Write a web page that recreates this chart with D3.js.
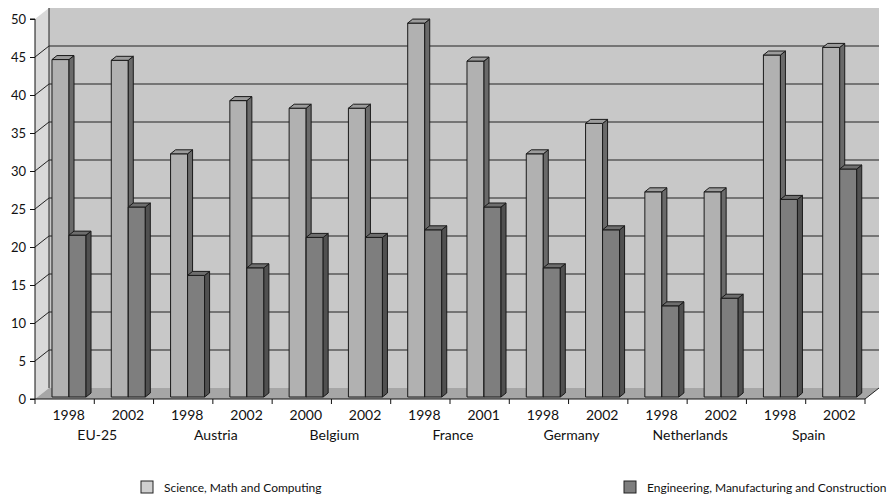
<!DOCTYPE html>
<html><head><meta charset="utf-8">
<script src="https://cdn.jsdelivr.net/npm/d3@7"></script>
<style>body{margin:0;background:#fff}svg{display:block}text{font-family:Lato,"Open Sans",sans-serif;fill:#111}</style>
</head><body>
<svg id="c" width="890" height="502"></svg>
<script>
const years = ["1998","2002","1998","2002","2000","2002","1998","2001","1998","2002","1998","2002","1998","2002"];
const countries = ["EU-25","Austria","Belgium","France","Germany","Netherlands","Spain"];
const science = [44.4,44.3,32,39,38,38,49.2,44.2,32,36,27,27,45,46];
const engineering = [21.3,25,16,17,21,21,22,25,17,22,12,13,26,30];
const seriesNames = ["Science, Math and Computing","Engineering, Manufacturing and Construction"];
const yTicks = [0,5,10,15,20,25,30,35,40,45,50];

const svg = d3.select("#c");
const x = d3.scaleBand().domain(d3.range(years.length)).range([35,865]);
const y = d3.scaleLinear().domain([0,50]).range([399,19]);
const DX = 14, DY = -11;          // wall depth
const FX = 3, FY = -2;            // bar front plane offset
const BDX = 5, BDY = -4;          // bar depth
const bw = x.bandwidth();
const sub = d3.scaleBand().domain([0,1]).range([0.236*bw, 0.81*bw]);
const colors = [
  {front:"#b1b1b1", side:"#6a6a6a", top:"#9c9c9c"},
  {front:"#7e7e7e", side:"#505050", top:"#6e6e6e"}
];
const poly = pts => "M" + pts.map(p=>p.join(",")).join("L") + "Z";
const x0 = x.range()[0], x1 = x.range()[1];
const yTop = y(50), yBot = y(0);

// walls
svg.append("path").attr("d", poly([[x0+DX,yTop+DY],[x1+DX,yTop+DY],[x1+DX,yBot+DY],[x0+DX,yBot+DY]])).attr("fill","#c8c8c8");
svg.append("path").attr("d", poly([[x0,yTop],[x0+DX,yTop+DY],[x0+DX,yBot+DY],[x0,yBot]])).attr("fill","#d9d9d9");
svg.append("path").attr("d", poly([[x0,yBot],[x0+DX,yBot+DY],[x1+DX,yBot+DY],[x1,yBot]])).attr("fill","#a6a6a6");

// gridlines
yTicks.filter(t=>t>0 && t<50).forEach(t=>{
  svg.append("path").attr("d", `M${x0},${y(t)}L${x0+DX},${y(t)+DY}L${x1+DX},${y(t)+DY}`)
    .attr("fill","none").attr("stroke","#222").attr("stroke-width",1);
});
svg.append("line").attr("x1",x0+DX).attr("x2",x0+DX).attr("y1",yTop+DY).attr("y2",yBot+DY).attr("stroke","#222");
svg.append("line").attr("x1",x1).attr("x2",x1+DX).attr("y1",yBot).attr("y2",yBot+DY).attr("stroke","#222");

// bars
const data = years.map((yr,i)=>[science[i], engineering[i]]);
data.forEach((vals,i)=>{
  vals.forEach((v,s)=>{
    const w = sub.bandwidth();
    const xl = x(i) + sub(s) + FX;
    const yt = y(v) + FY, yb = y(0) + FY;
    const g = svg.append("g").attr("stroke","#1a1a1a").attr("stroke-width",1).attr("stroke-linejoin","round");
    g.append("path").attr("d", poly([[xl,yt],[xl+w,yt],[xl+w,yb],[xl,yb]])).attr("fill",colors[s].front);
    g.append("path").attr("d", poly([[xl+w,yt],[xl+w+BDX,yt+BDY],[xl+w+BDX,yb+BDY],[xl+w,yb]])).attr("fill",colors[s].side);
    g.append("path").attr("d", poly([[xl,yt],[xl+BDX,yt+BDY],[xl+w+BDX,yt+BDY],[xl+w,yt]])).attr("fill",colors[s].top);
  });
});

// y axis
const yAxis = d3.axisLeft(y).tickValues(yTicks).tickSize(5).tickPadding(4).tickFormat(d3.format("d"));
const ya = svg.append("g").attr("transform",`translate(${x0},0)`).call(yAxis);
ya.select(".domain").attr("stroke","#111").attr("d",`M-5,${yTop}H0V${yBot}H-5`);
ya.selectAll(".tick line").attr("stroke","#111");
ya.selectAll("text").style("font-size","13px").attr("fill","#111");

// x axis
const xAxis = d3.axisBottom(x).tickSize(0).tickFormat(i=>years[i]).tickPadding(0);
const xa = svg.append("g").attr("transform",`translate(0,${yBot})`).call(xAxis);
xa.select(".domain").attr("stroke","#111").attr("d",`M${x0},0H${x1}`);
xa.selectAll("text").attr("dy",null).attr("y",21).attr("x",4).style("font-size","14px").attr("fill","#111");
d3.range(years.length+1).forEach(k=>{
  const xx = x0 + k*bw;
  svg.append("line").attr("x1",xx).attr("x2",xx).attr("y1",yBot).attr("y2",yBot+5).attr("stroke","#111");
});
countries.forEach((c,k)=>{
  svg.append("text").attr("x", x(2*k+1)+3).attr("y", yBot+41).attr("text-anchor","middle")
    .style("font-size","14px").text(c);
});

// legend
const legX = [141, 624];
seriesNames.forEach((n,s)=>{
  svg.append("rect").attr("x",legX[s]).attr("y",481).attr("width",12).attr("height",12)
    .attr("fill",s===0?"#d0d0d0":"#7e7e7e").attr("stroke","#222");
  svg.append("text").attr("x",legX[s]+23).attr("y",491.5).style("font-size","12px").text(n);
});
</script>
</body></html>
